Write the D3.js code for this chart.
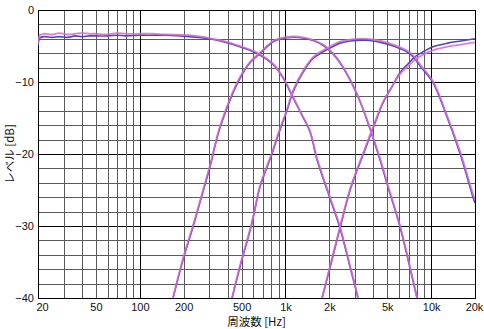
<!DOCTYPE html>
<html><head><meta charset="utf-8">
<script src="https://cdn.jsdelivr.net/npm/d3@7"></script>
<style>body{margin:0;background:#fff}svg{display:block}</style>
</head><body><svg id="c" width="484" height="329"></svg>
<script>
// ---- data ----
const xTickValues = [20, 50, 100, 200, 500, 1000, 2000, 5000, 10000, 20000];
const xTickLabels = ["20", "50", "100", "200", "500", "1k", "2k", "5k", "10k", "20k"];
const yTickValues = [0, -10, -20, -30, -40];
const yTickLabels = ["0", "\u221210", "\u221220", "\u221230", "\u221240"];

const lpFreq = [20, 20.6, 22, 25, 28, 32, 36, 40, 45, 50, 60, 70, 80, 100, 120, 150, 220, 300, 374, 487, 634, 825, 966, 1074, 1258, 1473, 1646, 2000, 2367, 2800, 3150];
const lpBlue = [-5.0, -3.9, -3.7, -3.8, -3.7, -3.8, -3.6, -3.7, -3.6, -3.6, -3.6, -3.5, -3.6, -3.5, -3.5, -3.5, -3.7, -4.0, -4.4, -5.1, -6.0, -7.6, -9.5, -11.3, -14.1, -16.9, -20.8, -25.9, -30.3, -36.0, -40];
const lpPink = [-4.6, -3.5, -3.3, -3.4, -3.2, -3.4, -3.3, -3.2, -3.3, -3.3, -3.4, -3.2, -3.3, -3.3, -3.3, -3.4, -3.5, -3.9, -4.3, -5.0, -5.9, -7.5, -9.4, -11.2, -14.0, -16.8, -20.6, -25.7, -30.1, -35.8, -40];

const bp1Freq = [169, 198, 232, 270, 303, 346, 395, 462, 556, 687, 825, 1019, 1319, 1809, 2246, 2773, 3200, 3627, 4456, 5057, 6111, 7000, 8000];
const bp1Blue = [-40, -34.7, -30.1, -25.4, -21.8, -17.1, -13.7, -10.4, -7.6, -5.8, -4.4, -3.85, -3.9, -4.9, -6.7, -9.7, -12.4, -15.3, -20.8, -24.6, -30.1, -35.0, -40];
const bp1Pink = [-40, -34.5, -29.9, -25.2, -21.6, -16.9, -13.5, -10.2, -7.5, -5.7, -4.3, -3.75, -3.8, -4.8, -6.6, -9.6, -12.3, -15.2, -20.6, -24.4, -29.9, -34.8, -40];

const bp2Freq = [430, 487, 589, 668, 807, 893, 1019, 1131, 1325, 1552, 1968, 2367, 2773, 3627, 4500, 5500, 7160, 8500, 10300, 12500, 15770, 19380, 20000];
const bp2Blue = [-40, -35.7, -29.6, -24.6, -20.0, -17.3, -14.1, -11.3, -8.6, -6.7, -5.4, -4.6, -4.3, -4.2, -4.5, -5.0, -6.1, -7.9, -10.1, -14.2, -19.9, -26.0, -26.8];
const bp2Pink = [-40, -35.5, -29.4, -24.4, -19.8, -17.1, -13.9, -11.1, -8.4, -6.5, -5.2, -4.4, -4.1, -4.0, -4.3, -4.8, -5.9, -7.7, -9.9, -14.0, -19.6, -25.6, -26.4];

const hpFreq = [1782, 2010, 2367, 2800, 3516, 4100, 4670, 5400, 6111, 7000, 7745, 9000, 10300, 13000, 16000, 20000];
const hpBlue = [-40, -36.0, -30.3, -24.8, -19.4, -15.8, -12.9, -10.6, -8.7, -7.4, -6.5, -5.7, -5.1, -4.6, -4.3, -4.0];
const hpPink = [-40, -35.8, -30.1, -24.6, -19.2, -15.6, -12.8, -10.6, -8.9, -7.7, -6.9, -6.1, -5.6, -5.1, -4.8, -4.5];

const curves = [
  {f: lpFreq, blue: lpBlue, pink: lpPink},
  {f: bp1Freq, blue: bp1Blue, pink: bp1Pink},
  {f: bp2Freq, blue: bp2Blue, pink: bp2Pink},
  {f: hpFreq, blue: hpBlue, pink: hpPink}
];

// ---- chart ----
const L = 38, R = 475, T = 10, B = 298;
const svg = d3.select("#c");
const x = d3.scaleLog().domain([20, 20000]).range([L, R]);
const y = d3.scaleLinear().domain([-40, 0]).range([B, T]);

// grid
const minorX = [];
[10, 100, 1000, 10000].forEach(dec => { for (let k = 2; k <= 9; k++) { const v = dec * k; if (v > 20 && v < 20000) minorX.push(v); } });
const majorX = [100, 1000, 10000];
const hY = d3.range(-38, 0, 2);
const g = svg.append("g");
g.selectAll(".hy").data(hY).join("line")
  .attr("x1", L).attr("x2", R)
  .attr("y1", d => Math.round(y(d)) + 0.5).attr("y2", d => Math.round(y(d)) + 0.5)
  .attr("stroke", d => d % 10 === 0 ? "#000" : "#5a5a5a").attr("stroke-width", 1);
g.selectAll(".vx").data(minorX.filter(v => !majorX.includes(v))).join("line")
  .attr("y1", T).attr("y2", B)
  .attr("x1", d => Math.round(x(d)) + 0.5).attr("x2", d => Math.round(x(d)) + 0.5)
  .attr("stroke", "#5a5a5a").attr("stroke-width", 1);
g.selectAll(".mx").data(majorX).join("line")
  .attr("y1", T).attr("y2", B)
  .attr("x1", d => Math.round(x(d)) + 0.5).attr("x2", d => Math.round(x(d)) + 0.5)
  .attr("stroke", "#000").attr("stroke-width", 1);
g.append("rect").attr("x", L + 0.5).attr("y", T + 0.5).attr("width", R - L).attr("height", B - T)
  .attr("fill", "none").attr("stroke", "#000").attr("stroke-width", 1);

// curves
svg.append("clipPath").attr("id", "clp").append("rect").attr("x", L).attr("y", T).attr("width", R - L).attr("height", B - T + 1);
const cg = svg.append("g").attr("clip-path", "url(#clp)");
const mkLine = key => d3.line().curve(d3.curveCatmullRom.alpha(0.5)).x(d => x(d.f)).y(d => y(d[key]));
const ptsOf = c => c.f.map((f, i) => ({f, blue: c.blue[i], pink: c.pink[i]}));
curves.forEach(c => {
  cg.append("path").attr("d", mkLine("blue")(ptsOf(c))).attr("fill", "none").attr("stroke", "#4848c8").attr("stroke-width", 1.6);
});
curves.forEach(c => {
  cg.append("path").attr("d", mkLine("pink")(ptsOf(c))).attr("fill", "none").attr("stroke", "#d868cc").attr("stroke-width", 1.8).attr("stroke-opacity", 0.85);
});

// axes labels
const font = "'Liberation Sans', Arial, sans-serif";
const xa = d3.axisBottom(x).tickValues(xTickValues).tickFormat((d, i) => xTickLabels[i]).tickSize(0).tickPadding(0);
const xg = svg.append("g").attr("transform", `translate(0,${B + 13})`).call(xa);
xg.select(".domain").remove();
xg.selectAll("text").attr("font-family", font).attr("font-size", 11).attr("fill", "#111").attr("dy", 0)
  .attr("dx", (d) => d === 20 ? 4 : (d === 20000 ? -1 : 0));

const ya = d3.axisLeft(y).tickValues(yTickValues).tickFormat((d, i) => yTickLabels[i]).tickSize(0).tickPadding(4);
const yg = svg.append("g").attr("transform", `translate(${L},0)`).call(ya);
yg.select(".domain").remove();
yg.selectAll("text").attr("font-family", font).attr("font-size", 11).attr("fill", "#111");

svg.append("text").attr("x", (L + R) / 2).attr("y", 326).attr("text-anchor", "middle")
  .attr("font-family", "'Noto Sans CJK JP', sans-serif").attr("font-size", 11.5).attr("fill", "#111").text("周波数 [Hz]");
svg.append("text").attr("transform", `translate(14,${(T + B) / 2}) rotate(-90)`).attr("text-anchor", "middle")
  .attr("font-family", "'Noto Sans CJK JP', sans-serif").attr("font-size", 11.5).attr("fill", "#111").text("レベル [dB]");
</script></body></html>
